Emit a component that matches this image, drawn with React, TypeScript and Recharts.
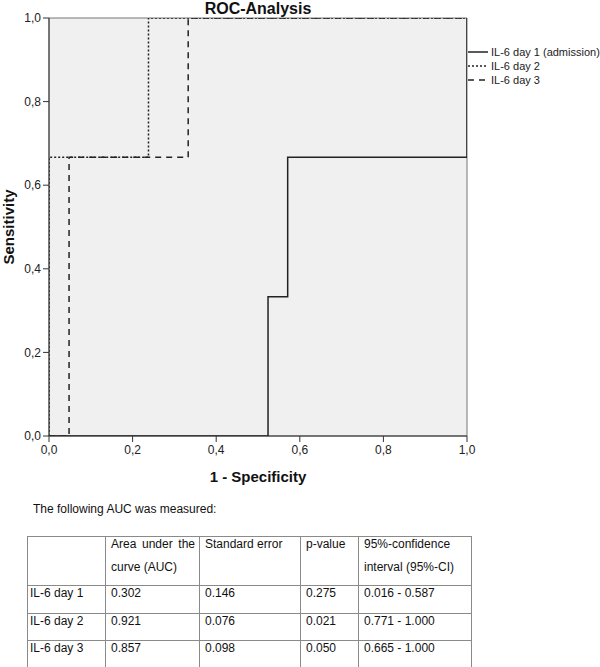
import React from 'react';
import { LineChart, Line, XAxis, YAxis, ReferenceArea, Legend, Label } from 'recharts';

// ROC curve points (1 - specificity, sensitivity)
const day1FPR = [0, 0.524, 0.524, 0.571, 0.571, 1, 1];
const day1TPR = [0, 0, 0.333, 0.333, 0.667, 0.667, 1];
const day2FPR = [0, 0, 0.238, 0.238, 1];
const day2TPR = [0, 0.667, 0.667, 1, 1];
const day3FPR = [0, 0.048, 0.048, 0.333, 0.333, 1];
const day3TPR = [0, 0, 0.667, 0.667, 1, 1];

const seriesNames = ['IL-6 day 1 (admission)', 'IL-6 day 2', 'IL-6 day 3'];
const seriesDashes = ['', '2 2', '6 5'];
const axisTicks = [0, 0.2, 0.4, 0.6, 0.8, 1];

const chartTitle = 'ROC-Analysis';
const xTitle = '1 - Specificity';
const yTitle = 'Sensitivity';

const tableIntro = 'The following AUC was measured:';
const tableHeader = ['', 'Area under the curve (AUC)', 'Standard error', 'p-value', '95%-confidence interval (95%-CI)'];
const rowLabels = ['IL-6 day 1', 'IL-6 day 2', 'IL-6 day 3'];
const aucValues = ['0.302', '0.921', '0.857'];
const seValues = ['0.146', '0.076', '0.098'];
const pValues = ['0.275', '0.021', '0.050'];
const ciValues = ['0.016 - 0.587', '0.771 - 1.000', '0.665 - 1.000'];

const toPoints = (xs: number[], ys: number[]) => xs.map((x, i) => ({ fpr: x, tpr: ys[i] }));
const series = [
  toPoints(day1FPR, day1TPR),
  toPoints(day2FPR, day2TPR),
  toPoints(day3FPR, day3TPR),
];

const FONT = 'Arial, "Liberation Sans", sans-serif';
const fmt = (v: number) => v.toFixed(1).replace('.', ',');

const colWidths = [78, 94, 101, 58, 113];
const rowHeights = [49, 28, 27, 27];

function LegendContent(props: any) {
  const payload = props.payload || [];
  return (
    <div style={{ fontFamily: FONT, fontSize: 11, color: '#222' }}>
      {payload.map((p: any, i: number) => (
        <div key={i} style={{ display: 'flex', alignItems: 'center', height: 14 }}>
          <svg width={21} height={6} style={{ display: 'block' }}>
            <line x1={0} y1={3} x2={20} y2={3} stroke="#222" strokeWidth={1.5} strokeDasharray={seriesDashes[i]} />
          </svg>
          <span style={{ marginLeft: 2, whiteSpace: 'nowrap' }}>{p.value}</span>
        </div>
      ))}
    </div>
  );
}

export default function App() {
  return (
    <div style={{ position: 'absolute', left: 0, top: 0, width: 600, height: 667, background: '#fff', fontFamily: FONT, overflow: 'hidden' }}>
      <div style={{ position: 'absolute', left: 49, top: 1, width: 418, textAlign: 'center', fontSize: 16, lineHeight: '16px', fontWeight: 'bold', color: '#111' }}>
        {chartTitle}
      </div>
      <div style={{ position: 'absolute', left: 0, top: 0 }}>
        <LineChart width={600} height={500} margin={{ top: 18, right: 133, bottom: 34, left: 9 }}>
          <ReferenceArea x1={0} x2={1} y1={0} y2={1} fill="#f0f0f0" fillOpacity={1} stroke="#777" strokeWidth={1} ifOverflow="visible" />
          <XAxis
            dataKey="fpr"
            type="number"
            domain={[0, 1]}
            ticks={axisTicks}
            tickFormatter={fmt}
            height={30}
            tickSize={6}
            tickMargin={3}
            stroke="#333"
            tick={{ fill: '#222', fontSize: 12, fontFamily: FONT }}
            allowDataOverflow
          >
            <Label
              content={(p: any) => {
                const vb = p.viewBox || { x: 49, y: 436, width: 418 };
                return (
                  <text x={vb.x + vb.width / 2} y={482} textAnchor="middle" fontSize={15} fontWeight="bold" fontFamily={FONT} fill="#111">
                    {xTitle}
                  </text>
                );
              }}
            />
          </XAxis>
          <YAxis
            type="number"
            domain={[0, 1]}
            ticks={axisTicks}
            tickFormatter={fmt}
            width={40}
            tickSize={6}
            tickMargin={2}
            stroke="#333"
            tick={{ fill: '#222', fontSize: 12, fontFamily: FONT }}
            allowDataOverflow
          >
            <Label
              content={(p: any) => {
                const vb = p.viewBox || { x: 9, y: 18, height: 418 };
                const cy = vb.y + vb.height / 2;
                return (
                  <text x={14} y={cy} transform={`rotate(-90 14 ${cy})`} textAnchor="middle" fontSize={15} fontWeight="bold" fontFamily={FONT} fill="#111">
                    {yTitle}
                  </text>
                );
              }}
            />
          </YAxis>
          {series.map((d, i) => (
            <Line
              key={i}
              data={d}
              dataKey="tpr"
              name={seriesNames[i]}
              type="linear"
              stroke="#222"
              strokeWidth={1.5}
              strokeDasharray={seriesDashes[i] || undefined}
              dot={false}
              activeDot={false}
              isAnimationActive={false}
            />
          ))}
          <Legend
            layout="horizontal"
            verticalAlign="middle"
            align="center"
            content={<LegendContent />}
            wrapperStyle={{ left: 468, top: 45, width: 132 }}
          />
        </LineChart>
      </div>
      <div style={{ position: 'absolute', left: 33, top: 501, fontSize: 12, lineHeight: '16px', color: '#111' }}>
        {tableIntro}
      </div>
      <table style={{ position: 'absolute', left: 27, top: 536, borderCollapse: 'collapse', tableLayout: 'fixed', width: colWidths.reduce((a, b) => a + b, 0), fontSize: 12, color: '#111' }}>
        <colgroup>
          {colWidths.map((w, i) => <col key={i} style={{ width: w }} />)}
        </colgroup>
        <tbody>
          {[tableHeader, ...rowLabels.map((r, i) => [r, aucValues[i], seValues[i], pValues[i], ciValues[i]])].map((row, ri) => (
            <tr key={ri} style={{ height: rowHeights[ri] }}>
              {row.map((cell, ci) => (
                <td
                  key={ci}
                  style={{
                    border: '1px solid #8a8a8a',
                    verticalAlign: 'top',
                    padding: 0,
                    paddingLeft: ci === 0 ? 2 : 5,
                    paddingRight: 4,
                    textAlign: ri === 0 && ci === 1 ? 'justify' : 'left',
                    overflow: 'hidden',
                  }}
                >
                  <div style={{ lineHeight: '23px', marginTop: -4 }}>{cell}</div>
                </td>
              ))}
            </tr>
          ))}
        </tbody>
      </table>
    </div>
  );
}
